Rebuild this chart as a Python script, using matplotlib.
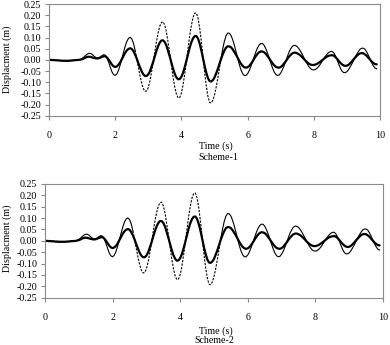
import numpy as np
import matplotlib
matplotlib.use("Agg")
import matplotlib.pyplot as plt
from matplotlib.ticker import FormatStrFormatter, MultipleLocator

plt.rcParams['font.family'] = ['Liberation Serif', 'DejaVu Serif']
plt.rcParams['axes.unicode_minus'] = False

# Time axis (s), sampled every 0.05 s
time = np.round(np.arange(0, 9.901, 0.05), 2)

# Thin line: larger-amplitude response (m)
thin_disp = [
    0.000, 0.000, -0.001, -0.001, -0.002, -0.002, -0.003, -0.004, -0.004, -0.005,
    -0.005, -0.005, -0.004, -0.004, -0.003, -0.002, -0.001, -0.001, 0.000, 0.002,
    0.006, 0.012, 0.019, 0.025, 0.029, 0.029, 0.025, 0.018, 0.012, 0.008,
    0.009, 0.013, 0.019, 0.023, 0.021, 0.009, -0.010, -0.032, -0.053, -0.066,
    -0.070, -0.063, -0.047, -0.023, 0.004, 0.033, 0.060, 0.082, 0.096, 0.101,
    0.094, 0.075, 0.044, 0.007, -0.033, -0.071, -0.105, -0.129, -0.141, -0.139,
    -0.124, -0.094, -0.053, -0.009, 0.039, 0.086, 0.123, 0.152, 0.168, 0.170,
    0.154, 0.123, 0.076, 0.027, -0.027, -0.079, -0.122, -0.154, -0.170, -0.168,
    -0.148, -0.113, -0.063, -0.009, 0.050, 0.107, 0.153, 0.189, 0.209, 0.210,
    0.188, 0.145, 0.085, 0.016, -0.054, -0.115, -0.162, -0.190, -0.193, -0.181,
    -0.157, -0.123, -0.082, -0.037, 0.009, 0.050, 0.084, 0.108, 0.120, 0.119,
    0.109, 0.090, 0.066, 0.037, 0.007, -0.021, -0.045, -0.062, -0.070, -0.070,
    -0.062, -0.048, -0.029, -0.008, 0.015, 0.036, 0.054, 0.067, 0.073, 0.073,
    0.065, 0.050, 0.031, 0.009, -0.014, -0.035, -0.053, -0.065, -0.070, -0.068,
    -0.059, -0.045, -0.027, -0.007, 0.014, 0.034, 0.049, 0.060, 0.065, 0.064,
    0.059, 0.050, 0.038, 0.025, 0.010, -0.005, -0.018, -0.030, -0.039, -0.044,
    -0.045, -0.043, -0.037, -0.029, -0.019, -0.007, 0.005, 0.016, 0.025, 0.033,
    0.037, 0.038, 0.032, 0.019, 0.002, -0.018, -0.036, -0.050, -0.057, -0.057,
    -0.053, -0.044, -0.031, -0.018, -0.003, 0.013, 0.026, 0.038, 0.048, 0.052,
    0.052, 0.047, 0.035, 0.020, 0.003, -0.013, -0.027, -0.037, -0.040,
]

# Thick line: reduced response (m)
thick_disp = [
    0.000, 0.000, -0.001, -0.001, -0.002, -0.002, -0.003, -0.003, -0.004, -0.004,
    -0.004, -0.004, -0.004, -0.003, -0.003, -0.002, -0.001, -0.001, 0.000, 0.001,
    0.003, 0.006, 0.010, 0.013, 0.014, 0.013, 0.011, 0.009, 0.007, 0.006,
    0.007, 0.010, 0.013, 0.016, 0.016, 0.011, 0.001, -0.010, -0.021, -0.029,
    -0.032, -0.029, -0.022, -0.011, 0.003, 0.017, 0.031, 0.042, 0.049, 0.052,
    0.049, 0.039, 0.024, 0.006, -0.015, -0.034, -0.052, -0.065, -0.072, -0.072,
    -0.065, -0.051, -0.030, -0.008, 0.018, 0.042, 0.063, 0.078, 0.087, 0.087,
    0.079, 0.063, 0.039, 0.014, -0.014, -0.040, -0.063, -0.079, -0.087, -0.086,
    -0.076, -0.058, -0.033, -0.005, 0.025, 0.054, 0.078, 0.096, 0.106, 0.107,
    0.096, 0.074, 0.044, 0.009, -0.026, -0.057, -0.081, -0.095, -0.097, -0.091,
    -0.079, -0.061, -0.041, -0.018, 0.005, 0.025, 0.042, 0.055, 0.061, 0.060,
    0.056, 0.047, 0.035, 0.023, 0.009, -0.005, -0.017, -0.027, -0.033, -0.035,
    -0.033, -0.027, -0.018, -0.007, 0.005, 0.017, 0.027, 0.034, 0.038, 0.037,
    0.034, 0.027, 0.017, 0.007, -0.004, -0.015, -0.024, -0.031, -0.034, -0.035,
    -0.032, -0.026, -0.016, -0.007, 0.004, 0.014, 0.022, 0.029, 0.032, 0.032,
    0.029, 0.025, 0.019, 0.012, 0.004, -0.004, -0.011, -0.017, -0.021, -0.023,
    -0.023, -0.021, -0.018, -0.013, -0.008, -0.002, 0.004, 0.010, 0.015, 0.018,
    0.020, 0.021, 0.019, 0.013, 0.005, -0.004, -0.013, -0.020, -0.025, -0.027,
    -0.026, -0.022, -0.015, -0.007, 0.002, 0.010, 0.018, 0.025, 0.029, 0.030,
    0.029, 0.024, 0.018, 0.009, 0.001, -0.008, -0.014, -0.019, -0.020,
]

panels = ["Scheme-1", "Scheme-2"]
x_ticks = [0, 2, 4, 6, 8, 10]
y_label = "Displacment (m)"
x_label = "Time (s)"

thin = np.array(thin_disp)
thick = np.array(thick_disp)

W, H = 390, 345
fig = plt.figure(figsize=(W / 100, H / 100), dpi=100)
rects = [[49 / W, 1 - 115.7 / H, 331 / W, 111.7 / H],
         [45 / W, 1 - 297.7 / H, 338 / W, 113.7 / H]]
ylab_x = [7.5 / W, 7 / W]
ylab_y = [1 - 59 / H, 1 - 238 / H]
time_pos = [(216 / W, 1 - 146 / H), (215.5 / W, 1 - 331.5 / H)]
scheme_pos = [(218 / W, 1 - 157 / H), (214 / W, 1 - 340.5 / H)]
fs = 7.2

for i, name in enumerate(panels):
    ax = fig.add_axes(rects[i])
    m1 = time <= 2.6
    m2 = (time >= 2.6) & (time <= 5.2)
    m3 = time >= 5.2
    ax.plot(time[m1], thin[m1], color='black', lw=0.8)
    ax.plot(time[m2], thin[m2], color='black', lw=0.8, ls=(0, (2.0, 1.2)))
    ax.plot(time[m3], thin[m3], color='black', lw=0.8)
    ax.plot(time, thick, color='black', lw=1.6, solid_capstyle='round')
    ax.set_xlim(0, 10)
    ax.set_ylim(-0.25, 0.25)
    ax.set_xticks(x_ticks)
    ax.yaxis.set_major_locator(MultipleLocator(0.05))
    ax.yaxis.set_major_formatter(FormatStrFormatter('%.2f'))
    for s in ax.spines.values():
        s.set_color('#8a8a8a')
        s.set_linewidth(0.8)
    ax.tick_params(axis='both', labelsize=fs, colors='#8a8a8a', labelcolor='black',
                   length=3, width=0.8, direction='out')
    ax.tick_params(axis='x', pad=8)
    ax.tick_params(axis='y', pad=2.5)
    fig.text(ylab_x[i], ylab_y[i], y_label, rotation=90,
             ha='center', va='center', fontsize=fs)
    fig.text(time_pos[i][0], time_pos[i][1], x_label, ha='center', va='center', fontsize=fs)
    fig.text(scheme_pos[i][0], scheme_pos[i][1], name, ha='center', va='center', fontsize=fs)

fig.savefig('out.png', dpi=100)
